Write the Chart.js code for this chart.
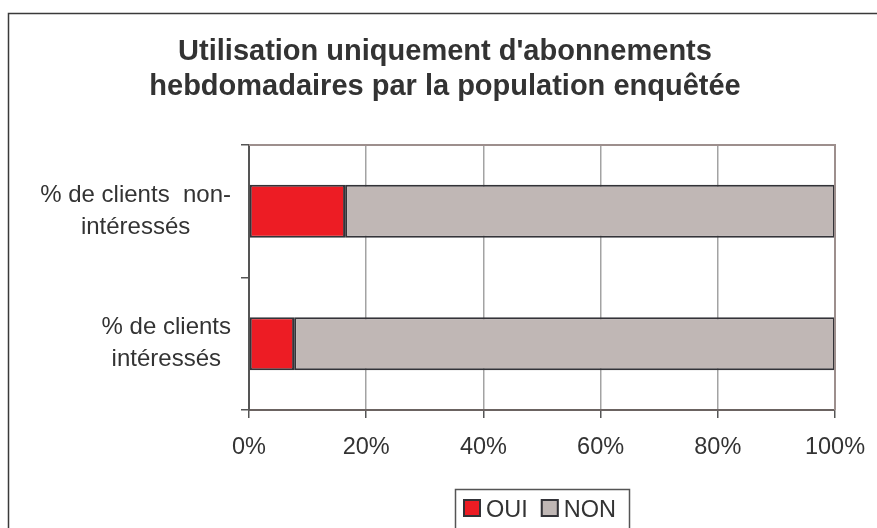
<!DOCTYPE html>
<html>
<head>
<meta charset="utf-8">
<script src="https://cdn.jsdelivr.net/npm/chart.js@4"></script>
<style>
  html, body { margin: 0; padding: 0; background: #fff; }
  #wrap { width: 877px; height: 528px; position: relative; }
</style>
</head>
<body>
<div id="wrap"><canvas id="chart"></canvas></div>
<script>
const categories = [
    ['% de clients  non-', 'intéressés'],
    ['% de clients', 'intéressés']
];
const ouiValues = [16.4, 7.7];
const nonValues = [83.6, 92.3];
const xTicks = [0, 20, 40, 60, 80, 100];
const titleLines = ["Utilisation uniquement d'abonnements", 'hebdomadaires par la population enquêtée'];

const FONT = "'Liberation Sans', Arial, sans-serif";

// frame, title, plot border, category labels and legend
const decorations = {
    id: 'decorations',
    beforeDraw(chart) {
        const {ctx} = chart;
        ctx.save();
        ctx.fillStyle = '#fff';
        ctx.fillRect(0, 0, chart.width, chart.height);
        ctx.strokeStyle = '#3a3a3a';
        ctx.lineWidth = 1.5;
        ctx.strokeRect(8.5, 13.5, 1000, 1000);

        // title
        ctx.fillStyle = '#333';
        ctx.font = 'bold 29px ' + FONT;
        ctx.textAlign = 'center';
        ctx.textBaseline = 'alphabetic';
        titleLines.forEach((t, i) => ctx.fillText(t, 445, 60 + i * 35));
        ctx.restore();
    },
    afterDraw(chart) {
        const {ctx, chartArea, scales: {y}} = chart;
        ctx.save();

        // top and right border of the plot area
        ctx.strokeStyle = '#9d8f8d';
        ctx.lineWidth = 2;
        ctx.beginPath();
        ctx.moveTo(chartArea.left, chartArea.top);
        ctx.lineTo(chartArea.right, chartArea.top);
        ctx.lineTo(chartArea.right, chartArea.bottom);
        ctx.stroke();

        // category labels, lines centred on each other
        ctx.font = '24px ' + FONT;
        ctx.fillStyle = '#333';
        ctx.textAlign = 'center';
        ctx.textBaseline = 'middle';
        const lineH = 32;
        categories.forEach((lines, i) => {
            const widest = Math.max(...lines.map(l => ctx.measureText(l).width));
            const cx = y.left + y.width - 18 - widest / 2;
            const cy = y.getPixelForValue(i);
            lines.forEach((l, k) => {
                ctx.fillText(l, cx, cy + (k - (lines.length - 1) / 2) * lineH);
            });
        });

        // legend with its box
        const sets = chart.data.datasets;
        const mark = 18, gap = 5, itemGap = 13, padL = 8, padR = 13;
        ctx.font = '23.5px ' + FONT;
        let total = padL + padR;
        sets.forEach((ds, i) => {
            total += mark + gap + ctx.measureText(ds.label).width + (i ? itemGap : 0);
        });
        const boxTop = chart.height - 39;
        let x = (chartArea.left + chartArea.right) / 2 - total / 2;
        ctx.strokeStyle = '#555';
        ctx.lineWidth = 1.5;
        ctx.strokeRect(Math.round(x) + 0.5, boxTop + 0.5, Math.round(total), 60);
        x += padL;
        ctx.textAlign = 'left';
        ctx.textBaseline = 'alphabetic';
        sets.forEach(ds => {
            ctx.fillStyle = ds.backgroundColor;
            ctx.fillRect(x, boxTop + 10, mark, mark);
            ctx.strokeStyle = ds.borderColor;
            ctx.lineWidth = 2;
            ctx.strokeRect(x + 1, boxTop + 11, mark - 2, mark - 2);
            x += mark + gap;
            ctx.fillStyle = '#333';
            ctx.fillText(ds.label, x, boxTop + 28);
            x += ctx.measureText(ds.label).width + itemGap;
        });
        ctx.restore();
    }
};

new Chart(document.getElementById('chart'), {
    type: 'bar',
    data: {
        labels: categories,
        datasets: [{
            label: 'OUI',
            data: ouiValues,
            backgroundColor: '#ed1c24',
            borderColor: '#333338',
            borderWidth: 2,
            borderSkipped: false
        }, {
            label: 'NON',
            data: nonValues,
            backgroundColor: '#c0b7b5',
            borderColor: '#333338',
            borderWidth: 2,
            borderSkipped: false
        }]
    },
    options: {
        responsive: true,
        maintainAspectRatio: false,
        animation: false,
        indexAxis: 'y',
        datasets: {
            bar: {
                categoryPercentage: 1,
                barPercentage: 0.4
            }
        },
        layout: {
            padding: {left: 8, top: 145, right: 42, bottom: 58}
        },
        scales: {
            x: {
                stacked: true,
                min: 0,
                max: 100,
                afterBuildTicks(scale) {
                    scale.ticks = xTicks.map(v => ({value: v}));
                },
                afterFit(scale) {
                    scale.height = 60;
                    scale.paddingLeft = 0;
                    scale.paddingRight = 0;
                },
                grid: {
                    color: '#a3a3a3',
                    lineWidth: 1.5,
                    tickLength: 8,
                    tickColor: '#555'
                },
                border: {
                    color: '#6b6361',
                    width: 2
                },
                ticks: {
                    color: '#333',
                    padding: 15,
                    font: {family: FONT, size: 23.5},
                    callback: v => v + '%'
                }
            },
            y: {
                stacked: true,
                afterFit(scale) {
                    scale.width = 241;
                },
                grid: {
                    offset: true,
                    drawOnChartArea: false,
                    tickLength: 8,
                    tickColor: '#555',
                    lineWidth: 1.5
                },
                border: {
                    color: '#555',
                    width: 2
                },
                ticks: {
                    display: false
                }
            }
        },
        plugins: {
            title: {display: false},
            legend: {display: false},
            tooltip: {enabled: false}
        }
    },
    plugins: [decorations]
});
</script>
</body>
</html>
